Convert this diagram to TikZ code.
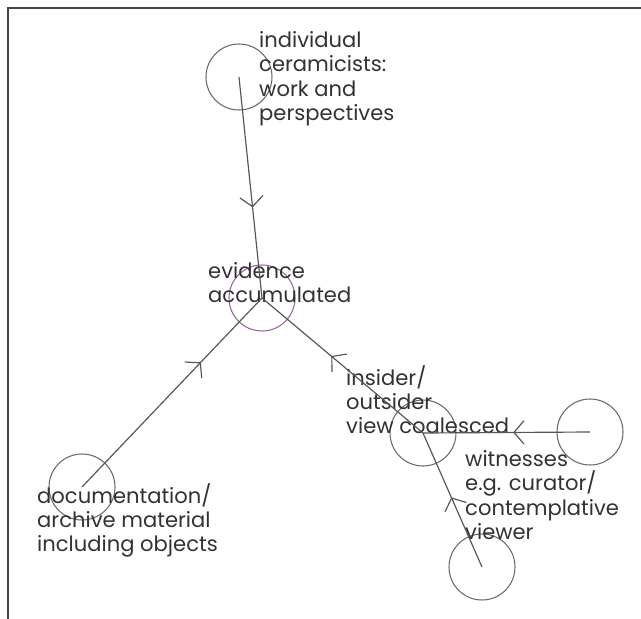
\documentclass[tikz,border=0pt]{standalone}
\usepackage{fontspec}
\setmainfont{Poppins}
\usepackage{xcolor}
\usepackage{tikz}
\usetikzlibrary{arrows.meta, decorations.markings}
\definecolor{linegray}{RGB}{85,85,85}
\definecolor{ringgray}{RGB}{105,105,105}
\definecolor{ringpurple}{RGB}{150,100,155}
\definecolor{textgray}{RGB}{50,50,50}
\definecolor{framegray}{RGB}{70,70,70}
\tikzset{
  ring/.style={circle, draw=ringgray, line width=0.9pt, minimum size=1.98cm,
               inner sep=0pt},
  note/.style={anchor=north west, inner sep=0pt, align=left, text=textgray,
               font=\fontsize{18}{20.8}\selectfont},
  flow/.style={draw=linegray, line width=1pt},
  midarrow/.style={postaction={decorate, decoration={markings,
                   mark=at position #1 with {\arrow{Straight Barb[length=0.3cm, width=0.7cm, line width=1pt]}}}}}
}

\begin{document}
\begin{tikzpicture}[x=0.03cm, y=-0.03cm]

  \useasboundingbox (0,0) rectangle (641,619);

  %% ── Frame ───────────────────────────────────────────────────────────────
  \draw[framegray, line width=1.2pt] (8,619) -- (8,8) -- (641,8);

  %% ── Rings ───────────────────────────────────────────────────────────────
  \node[ring] (ceram) at (239,77) {};
  \node[ring, draw=ringpurple] (evid) at (262,298) {};
  \node[ring] (docs) at (82,487) {};
  \node[ring] (coal) at (423,433) {};
  \node[ring] (witA) at (590,432) {};
  \node[ring] (witB) at (482,567) {};

  %% ── Labels ──────────────────────────────────────────────────────────────
  \node[note] (ceramtxt) at (259,31)
        {individual\\ceramicists:\\work and\\perspectives};
  \node[note] (evidtxt) at (208,262)
        {evidence\\accumulated};
  \node[note] (coaltxt) at (346,365)
        {insider/\\outsider\\view coalesced};
  \node[note] (wittxt) at (465,450)
        {witnesses\\e.g. curator/\\contemplative\\viewer};
  \node[note] (docstxt) at (37,483)
        {documentation/\\archive material\\including objects};

  %% ── Arrows ──────────────────────────────────────────────────────────────
  \draw[flow, midarrow=0.59] (ceram.center) -- (evid.center);
  \draw[flow, midarrow=0.66] (docs.center) -- (evid.center);
  \draw[flow, midarrow=0.57] (coal.center) -- (evid.center);
  \draw[flow, midarrow=0.46] (witA.center) -- (coal.center);
  \draw[flow, midarrow=0.52] (witB.center) -- (coal.center);

\end{tikzpicture}
\end{document}
